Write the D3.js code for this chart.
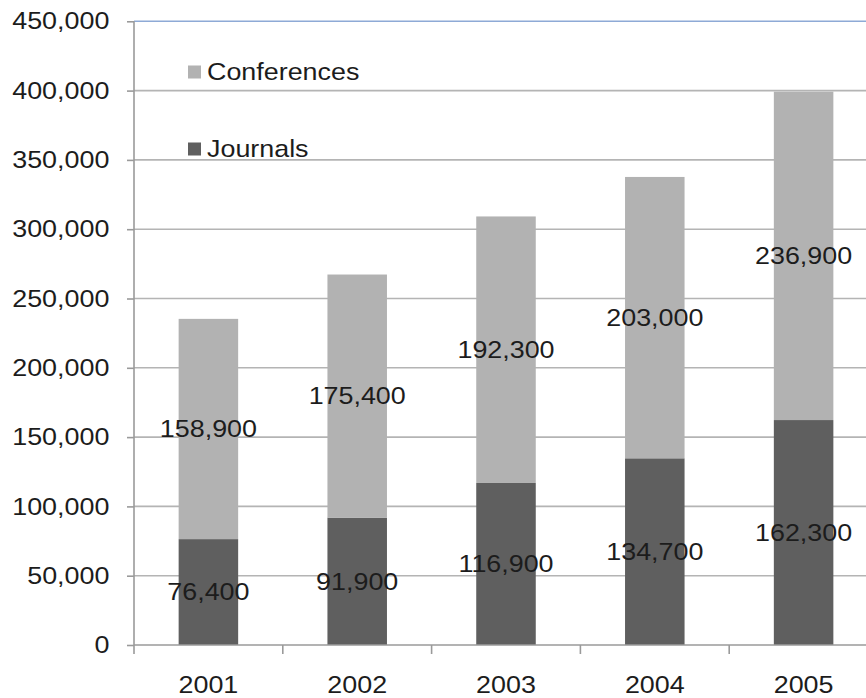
<!DOCTYPE html>
<html>
<head>
<meta charset="utf-8">
<script src="https://cdn.jsdelivr.net/npm/d3@7"></script>
<style>
  body { margin: 0; background: #fff; }
  svg { display: block; }
  text { font-family: "Liberation Sans", Arial, sans-serif; font-size: 24px; fill: #1c1c1c; }
</style>
</head>
<body>
<svg width="866" height="698"></svg>
<script>
const years = ["2001", "2002", "2003", "2004", "2005"];
const journals = [76400, 91900, 116900, 134700, 162300];
const conferences = [158900, 175400, 192300, 203000, 236900];
const seriesNames = ["Journals", "Conferences"];
const yTicks = [0, 50000, 100000, 150000, 200000, 250000, 300000, 350000, 400000, 450000];

const colors = { Journals: "#5f5f5f", Conferences: "#b2b2b2" };
const sx = "scale(1.12,1)";

const svg = d3.select("svg");
const plotLeft = 134, plotRight = 878, plotTop = 21.3, plotBottom = 645;

const x = d3.scaleBand().domain(years).range([plotLeft, plotRight]).paddingInner(0.6).paddingOuter(0.3);
const y = d3.scaleLinear().domain([0, 450000]).range([plotBottom, plotTop]);

// gridlines
svg.append("g").selectAll("line")
  .data(yTicks.filter(d => d > 0))
  .join("line")
  .attr("x1", plotLeft).attr("x2", 866)
  .attr("y1", d => y(d)).attr("y2", d => y(d))
  .attr("stroke", d => d === 450000 ? "#8eaad6" : "#b4b4b4")
  .attr("stroke-width", 1.6);

// stacked bars
const rows = years.map((yr, i) => ({ year: yr, Journals: journals[i], Conferences: conferences[i] }));
const stacked = d3.stack().keys(seriesNames)(rows);

svg.append("g").selectAll("g")
  .data(stacked)
  .join("g")
  .attr("fill", s => colors[s.key])
  .selectAll("rect")
  .data(s => s)
  .join("rect")
  .attr("x", d => x(d.data.year))
  .attr("width", x.bandwidth())
  .attr("y", d => y(d[1]))
  .attr("height", d => y(d[0]) - y(d[1]));

// y axis
const yAxis = svg.append("g")
  .attr("transform", `translate(${plotLeft},0)`)
  .call(d3.axisLeft(y).tickValues(yTicks).tickSize(7).tickPadding(15).tickFormat(d3.format(",")));
yAxis.select(".domain").remove();
yAxis.selectAll(".tick line").attr("stroke", "#9a9a9a").attr("stroke-width", 1.6);
yAxis.selectAll(".tick text").attr("x", -22).attr("transform", sx).attr("fill", "#1c1c1c").attr("font-size", 24)
  .attr("font-family", "Liberation Sans, Arial, sans-serif");
svg.append("line").attr("x1", plotLeft).attr("x2", plotLeft).attr("y1", plotTop).attr("y2", plotBottom + 9)
  .attr("stroke", "#9a9a9a").attr("stroke-width", 1.6);

// x axis
svg.append("line").attr("x1", plotLeft).attr("x2", 866).attr("y1", plotBottom).attr("y2", plotBottom)
  .attr("stroke", "#9a9a9a").attr("stroke-width", 1.6);
svg.append("g").selectAll("line")
  .data(years)
  .join("line")
  .attr("x1", d => x(d) + x.bandwidth() / 2 + x.step() / 2)
  .attr("x2", d => x(d) + x.bandwidth() / 2 + x.step() / 2)
  .attr("y1", plotBottom).attr("y2", plotBottom + 9)
  .attr("stroke", "#9a9a9a").attr("stroke-width", 1.6);
svg.append("g").selectAll("text")
  .data(years)
  .join("text")
  .attr("transform", d => `translate(${x(d) + x.bandwidth() / 2},${plotBottom + 48}) ${sx}`)
  .attr("text-anchor", "middle")
  .text(d => d);

// value labels
svg.append("g").selectAll("g")
  .data(stacked)
  .join("g")
  .selectAll("text")
  .data(s => s.map(d => ({ d, v: d.data[s.key] })))
  .join("text")
  .attr("transform", o => `translate(${x(o.d.data.year) + x.bandwidth() / 2},${(y(o.d[0]) + y(o.d[1])) / 2}) ${sx}`)
  .attr("text-anchor", "middle")
  .attr("dy", "0.35em")
  .text(o => d3.format(",")(o.v));

// legend
const legend = svg.append("g").selectAll("g")
  .data(["Conferences", "Journals"])
  .join("g")
  .attr("transform", (d, i) => `translate(188,${72 + i * 77})`);
legend.append("rect").attr("x", 0).attr("y", -6.5).attr("width", 13).attr("height", 13)
  .attr("fill", d => colors[d]);
legend.append("text")
  .attr("transform", `translate(19,0) ${sx}`)
  .attr("dy", "0.35em")
  .text(d => d);
</script>
</body>
</html>
